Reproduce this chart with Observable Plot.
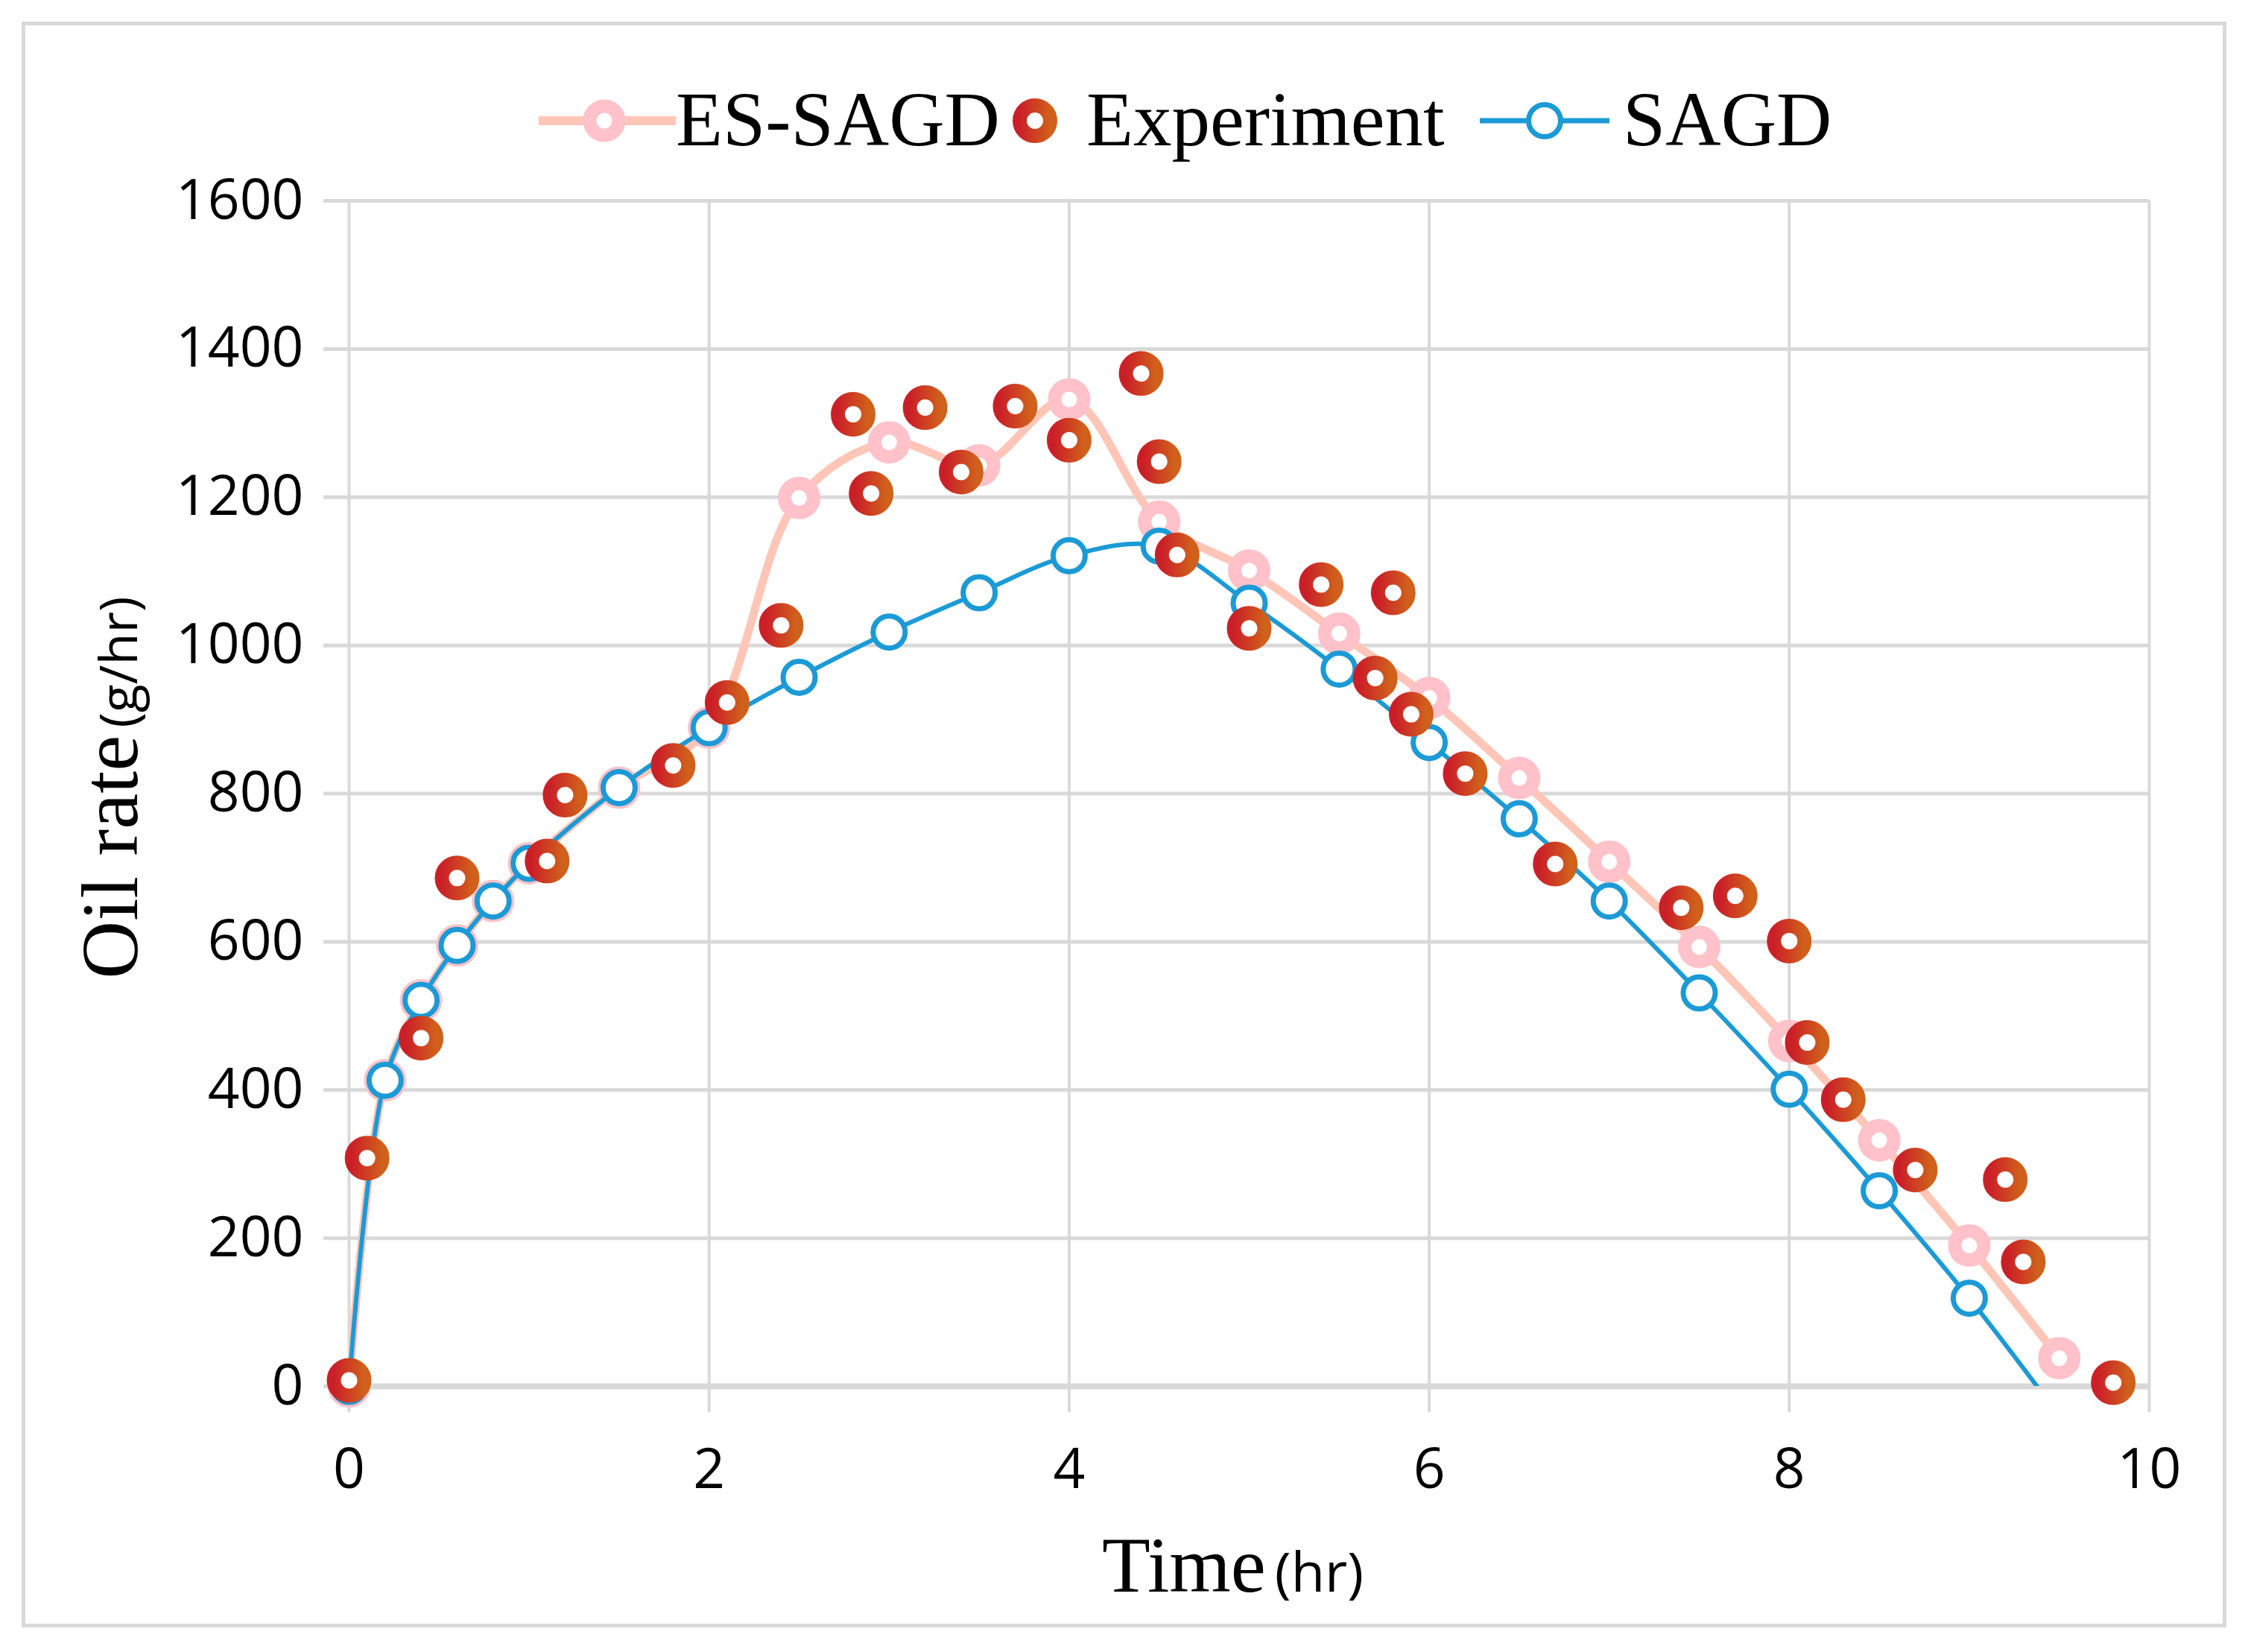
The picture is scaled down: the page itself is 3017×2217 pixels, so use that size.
<!DOCTYPE html>
<html>
<head>
<meta charset="utf-8">
<script src="https://cdn.jsdelivr.net/npm/d3@7"></script>
<script src="https://cdn.jsdelivr.net/npm/@observablehq/plot@0.6"></script>
<style>
  html, body { margin: 0; padding: 0; background: white; }
  body { width: 3017px; height: 2217px; position: relative; overflow: hidden; }
  #frame { position: absolute; left: 29px; top: 29px; width: 2959px; height: 2155px; box-sizing: border-box; border: 5px solid #d9d9d9; z-index: 5; pointer-events: none; }
  #legend { position: absolute; left: 0; top: 0; width: 3017px; height: 230px; font-family: "Liberation Serif", serif; font-size: 103px; color: black; }
  #legend span { position: absolute; top: 109px; line-height: 1; white-space: nowrap; }
  #legend svg { position: absolute; overflow: visible; }
  #chart { position: absolute; left: 0; top: 230px; }
</style>
</head>
<body>
<div id="legend"></div>
<div id="chart"></div>
<div id="frame"></div>
<script>
// simulated series (same time grid for both models)
const modelTime = [0, 0.2, 0.4, 0.6, 0.8, 1.0, 1.5, 2.0, 2.5, 3.0, 3.5, 4.0, 4.5, 5.0, 5.5, 6.0, 6.5, 7.0, 7.5, 8.0, 8.5, 9.0, 9.5];
const sagdRate = [0, 413, 521, 595, 655, 706, 808, 889, 957, 1018, 1071, 1121, 1134, 1057, 968, 869, 766, 655, 531, 401, 264, 119, -40];
const esSagdRate = [0, 413, 521, 595, 655, 706, 808, 889, 1199, 1274, 1243, 1332, 1167, 1101, 1016, 929, 821, 708, 593, 466, 332, 190, 38];

// lab measurements
const expTime = [0, 0.1, 0.4, 0.6, 1.1, 1.2, 1.8, 2.1, 2.4, 2.8, 2.9, 3.2, 3.4, 3.7, 4.0, 4.4, 4.5, 4.6, 5.0, 5.4, 5.7, 5.8, 5.9, 6.2, 6.7, 7.4, 7.7, 8.0, 8.1, 8.3, 8.7, 9.2, 9.3, 9.8];
const expRate = [8, 308, 470, 686, 709, 798, 838, 923, 1027, 1312, 1205, 1321, 1234, 1323, 1277, 1367, 1248, 1122, 1023, 1082, 956, 1071, 907, 827, 705, 646, 662, 601, 464, 387, 292, 279, 168, 5];

const seriesNames = ['ES-SAGD', 'Experiment', 'SAGD'];
const xTicks = [0, 2, 4, 6, 8, 10];
const yTicks = [0, 200, 400, 600, 800, 1000, 1200, 1400, 1600];

const sagd = modelTime.map((t, i) => ({time: t, rate: sagdRate[i]}));
const esSagd = modelTime.map((t, i) => ({time: t, rate: esSagdRate[i]}));
const experiment = expTime.map((t, i) => ({time: t, rate: expRate[i]}));

const pinkLine = '#ffc6b8';
const pinkDot = '#ffc2ca';
const blue = '#1b9ad6';
const grid = '#d9d9d9';

let chart = Plot.plot({
  width: 3017,
  height: 1987,
  marginLeft: 468,
  marginRight: 133,
  marginTop: 39,
  marginBottom: 357,
  style: {fontFamily: "'Open Sans', sans-serif", fontSize: '75px', color: 'black', background: 'white', overflow: 'visible'},
  x: {domain: [0, 10]},
  y: {domain: [0, 1600]},
  marks: [
    Plot.gridY(yTicks, {stroke: grid, strokeOpacity: 1, strokeWidth: 5}),
    Plot.gridX(xTicks, {stroke: grid, strokeOpacity: 1, strokeWidth: 4}),
    Plot.axisY(yTicks, {tickSize: 34, tickFormat: () => '', stroke: grid, strokeWidth: 5, label: null}),
    Plot.axisY(yTicks, {
      tickSize: 0,
      tickPadding: 61,
      tickFormat: (d) => String(d),
      fontSize: 75,
      label: 'Oil rate (g/hr)',
      labelAnchor: 'center',
      labelArrow: 'none',
      labelOffset: 361,
    }),
    Plot.axisX(xTicks, {tickSize: 35, tickFormat: () => '', stroke: grid, strokeWidth: 4, label: null}),
    Plot.axisX(xTicks, {
      tickSize: 0,
      tickPadding: 83,
      tickFormat: (d) => String(d),
      fontSize: 75,
      label: 'Time (hr)',
      labelAnchor: 'center',
      labelArrow: 'none',
      labelOffset: 275,
    }),
    Plot.ruleY([0], {stroke: grid, strokeWidth: 8}),
    Plot.line(esSagd, {x: 'time', y: 'rate', curve: 'catmull-rom', stroke: pinkLine, strokeWidth: 11, clip: true}),
    Plot.dot(esSagd, {x: 'time', y: 'rate', r: 19.5, stroke: pinkDot, strokeWidth: 18, fill: 'white'}),
    Plot.line(sagd, {x: 'time', y: 'rate', curve: 'catmull-rom', stroke: blue, strokeWidth: 6, clip: true}),
    Plot.dot(sagd, {x: 'time', y: 'rate', filter: (d) => d.rate >= 0, r: 21.5, stroke: blue, strokeWidth: 7, fill: 'white'}),
    Plot.dot(experiment, {x: 'time', y: 'rate', r: 20.5, stroke: 'url(#expGrad)', strokeWidth: 19, fill: 'white'}),
  ],
});

// red-to-orange gradient used by the experiment markers
function addGradient(svg, id) {
  const g = svg.insert('defs', ':first-child').append('linearGradient')
    .attr('id', id).attr('x1', 0).attr('x2', 1).attr('y1', 0).attr('y2', 0);
  g.append('stop').attr('offset', 0).attr('stop-color', '#cb1f28');
  g.append('stop').attr('offset', 1).attr('stop-color', '#d0611b');
}
addGradient(d3.select(chart), 'expGrad');

// axis titles: serif word + smaller sans unit
const yLab = d3.select(chart).select('g[aria-label="y-axis label"] text');
yLab.text(null).attr('font-family', "'Liberation Serif', serif").attr('font-size', 108);
yLab.append('tspan').attr('dx', 8).text('Oil rate');
yLab.append('tspan').attr('dx', 10).attr('font-family', "'Open Sans', sans-serif").attr('font-size', 70).text('(g/hr)');

const xLab = d3.select(chart).select('g[aria-label="x-axis label"] text');
xLab.text(null).attr('font-family', "'Liberation Serif', serif").attr('font-size', 106);
xLab.append('tspan').attr('dx', -22).text('Time');
xLab.append('tspan').attr('dx', 12).attr('font-family', "'Open Sans', sans-serif").attr('font-size', 74).text('(hr)');

d3.select('#chart').append(() => chart);

// legend above the chart
const legend = d3.select('#legend');
const cy = 162;

let sw = legend.append('svg').attr('width', 184).attr('height', 70)
  .style('left', '723px').style('top', (cy - 35) + 'px');
sw.append('line').attr('x1', 0).attr('x2', 184).attr('y1', 35).attr('y2', 35)
  .attr('stroke', pinkLine).attr('stroke-width', 12);
sw.append('circle').attr('cx', 88).attr('cy', 35).attr('r', 19.5)
  .attr('fill', 'white').attr('stroke', pinkDot).attr('stroke-width', 18);
legend.append('span').style('left', '907px').text(seriesNames[0]);

sw = legend.append('svg').attr('width', 70).attr('height', 70)
  .style('left', (1389 - 35) + 'px').style('top', (cy - 35) + 'px');
addGradient(sw, 'expGradL');
sw.append('circle').attr('cx', 35).attr('cy', 35).attr('r', 20.5)
  .attr('fill', 'white').attr('stroke', 'url(#expGradL)').attr('stroke-width', 19);
legend.append('span').style('left', '1458px').text(seriesNames[1]);

sw = legend.append('svg').attr('width', 174).attr('height', 70)
  .style('left', '1986px').style('top', (cy - 35) + 'px');
sw.append('line').attr('x1', 0).attr('x2', 174).attr('y1', 35).attr('y2', 35)
  .attr('stroke', blue).attr('stroke-width', 7);
sw.append('circle').attr('cx', 87).attr('cy', 35).attr('r', 21.5)
  .attr('fill', 'white').attr('stroke', blue).attr('stroke-width', 7);
legend.append('span').style('left', '2178px').text(seriesNames[2]);
</script>
</body>
</html>
